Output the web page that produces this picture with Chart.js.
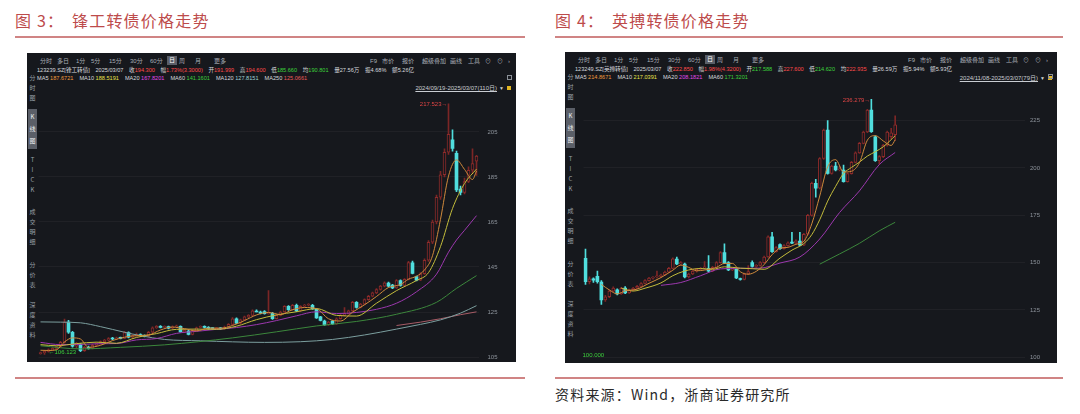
<!DOCTYPE html>
<html><head><meta charset="utf-8">
<script src="https://cdn.jsdelivr.net/npm/chart.js@4.4.1/dist/chart.umd.min.js"></script>
<style>
html,body{margin:0;padding:0;background:#fff;width:1080px;height:414px;overflow:hidden;}
.title{position:absolute;top:11px;font-family:"Noto Sans CJK SC",sans-serif;font-size:16px;line-height:18px;color:#bd4b4b;white-space:nowrap;letter-spacing:1.2px;}
.rule{position:absolute;height:2px;background:#d08484;}
.src{position:absolute;left:555px;top:386px;font-family:"Noto Sans CJK SC",sans-serif;font-size:14px;line-height:17px;color:#2a2a2a;white-space:nowrap;letter-spacing:1.2px;}
.panel{position:absolute;background:#16181d;overflow:hidden;}
.t{position:absolute;white-space:nowrap;font-family:"Liberation Sans","Noto Sans CJK SC",sans-serif;line-height:8px;height:8px;}
.side{position:absolute;width:9px;text-align:center;font-family:"Noto Sans CJK SC",sans-serif;font-size:6px;color:#9aa0a8;}
canvas{position:absolute;}
</style></head><body>

<div class="title" style="left:15px">图 3：</div>
<div class="title" style="left:72px">锋工转债价格走势</div>
<div class="rule" style="left:15px;top:36px;width:510px"></div>
<div class="rule" style="left:15px;top:377px;width:510px"></div>

<div class="title" style="left:555px">图 4：</div>
<div class="title" style="left:612px">英搏转债价格走势</div>
<div class="rule" style="left:555px;top:36px;width:508px"></div>
<div class="rule" style="left:555px;top:377px;width:508px"></div>
<div class="src">资料来源：Wind，浙商证券研究所</div>

<div id="pL" class="panel" style="left:27px;top:53px;width:489px;height:309px"></div>
<div id="pR" class="panel" style="left:565px;top:52px;width:492px;height:311px"></div>

<script>
// ---------- Left: 123239.SZ 锋工转债, 2024/09/19-2025/03/07 (110 days) ----------
const leftOpen = [
106.5,106.9,107.5,108.2,108.8,109.6,111.5,120.5,116.0,109.8,
110.6,107.8,109.3,108.8,110.2,111.0,111.8,112.5,113.3,113.0,
113.5,113.3,115.9,113.8,114.5,115.0,114.5,114.2,116.0,118.0,
118.6,118.2,118.5,117.8,118.4,118.6,116.2,116.5,115.0,116.8,
118.2,118.5,118.2,117.7,117.6,117.8,117.5,118.3,119.5,122.0,
120.0,121.5,122.8,123.5,125.2,125.0,125.2,124.3,124.4,122.0,
123.5,125.0,127.5,126.0,128.0,125.5,127.6,128.0,128.0,126.2,
122.8,121.0,119.3,121.0,119.7,122.0,123.5,124.2,125.5,129.3,
127.0,128.5,130.5,132.0,133.5,135.0,136.5,137.9,137.0,135.7,
139.0,136.8,139.5,146.9,140.7,139.1,142.0,148.0,156.0,165.0,
176.0,186.0,196.0,201.5,195.5,179.6,178.1,183.0,188.0,191.999];
const leftHigh = [
107.2,107.8,108.6,109.2,110.0,112.0,121.8,121.3,116.4,111.5,
111.0,109.8,109.8,110.6,111.4,112.2,112.9,113.6,113.7,113.9,
113.9,116.4,116.2,114.9,115.6,115.3,114.8,116.4,118.4,119.0,
119.0,118.9,118.7,118.8,119.2,118.9,117.2,116.8,117.1,118.3,
118.9,118.8,118.5,118.0,118.2,118.1,118.7,119.9,122.5,122.4,
121.9,123.2,123.9,126.0,126.0,125.4,125.6,134.5,124.8,123.9,
125.4,127.9,127.9,128.4,128.5,127.9,128.4,128.7,128.4,126.5,
123.1,121.4,120.9,121.3,122.4,123.9,127.0,125.9,129.7,129.6,
128.9,130.9,132.4,133.9,135.4,136.9,138.4,138.3,137.3,139.4,
139.3,139.9,147.5,147.6,141.0,142.5,148.6,156.7,165.8,177.0,
187.5,197.5,217.523,206.0,196.5,181.0,184.5,189.5,197.5,194.6];
const leftLow = [
106.3,106.123,107.2,107.8,108.4,109.3,111.2,115.5,109.4,109.2,
107.4,107.5,108.5,108.6,109.9,110.7,111.5,112.2,112.7,112.8,
113.0,113.1,113.5,113.5,114.2,114.2,113.9,114.0,115.8,117.7,
117.9,117.9,117.5,117.6,118.1,116.0,115.9,114.8,114.8,116.5,
118.0,117.9,117.4,117.3,117.3,117.2,117.3,118.1,119.3,119.8,
119.8,121.3,122.5,123.3,125.0,124.2,124.0,124.0,121.7,121.8,
123.3,124.8,125.7,125.8,125.2,125.3,127.3,127.7,126.2,122.1,
121.0,119.0,119.0,119.4,119.5,121.8,123.3,124.0,125.3,126.7,
126.8,128.3,130.2,131.7,133.2,134.7,136.2,136.2,135.4,135.5,
136.5,136.6,139.3,141.9,138.8,138.9,141.7,147.5,155.4,164.2,
175.0,185.0,195.0,196.5,178.5,177.0,177.5,182.5,186.5,185.66];
const leftClose = [
106.8,107.5,108.2,108.8,109.6,111.5,120.5,116.0,109.8,110.8,
107.8,109.3,108.8,110.2,111.0,111.8,112.5,113.2,113.0,113.5,
113.3,115.9,113.8,114.5,115.0,114.5,114.2,116.0,118.0,118.6,
118.2,118.5,117.8,118.4,118.6,116.2,116.8,115.0,116.8,118.0,
118.5,118.2,117.7,117.6,117.8,117.5,118.3,119.5,122.0,120.0,
121.5,122.8,123.5,125.5,125.0,124.5,124.3,124.5,122.0,123.5,
125.0,127.5,126.0,128.0,125.5,127.5,128.0,128.3,126.4,122.4,
121.3,119.3,120.5,119.7,122.0,123.5,124.2,125.5,129.3,127.0,
128.5,130.5,132.0,133.5,135.0,136.5,138.0,136.5,135.7,139.0,
136.8,139.5,147.0,142.2,139.1,142.0,148.0,156.0,165.0,176.0,
186.0,196.0,204.0,197.7,179.3,178.1,183.0,188.0,191.0,194.3];
// moving averages: [day index, value]
const leftMA5 = [[0,108.0],[2,107.9],[4,108.2],[6,111.7],[8,113.5],[10,113.0],[12,109.3],[15,110.2],[18,112.3],[21,113.8],[24,114.5],[27,114.8],[30,117.0],[33,118.3],[36,117.6],[39,116.6],[42,117.8],[45,117.8],[48,119.0],[51,121.2],[54,123.7],[57,124.8],[60,123.9],[63,126.0],[66,127.0],[69,126.5],[72,122.0],[75,121.0],[78,124.9],[81,128.2],[84,131.9],[87,135.9],[90,137.2],[92,139.6],[94,140.9],[96,143.7],[98,150.0],[100,166.2],[102,185.4],[104,192.6],[106,188.4],[108,183.9],[109,187.67]];
const leftMA10 = [[0,110.5],[4,110.0],[9,110.95],[14,111.6],[19,111.1],[24,113.7],[29,115.4],[34,117.3],[39,117.4],[44,117.3],[49,118.7],[54,121.6],[59,123.7],[64,125.1],[69,126.5],[74,123.5],[79,123.2],[84,128.9],[89,134.5],[94,139.0],[97,142.5],[100,154.1],[103,171.0],[106,182.1],[109,188.52]];
const leftMA20 = [[0,111.5],[5,110.5],[10,110.6],[15,110.9],[19,111.0],[24,112.6],[29,113.2],[34,115.5],[39,116.4],[44,117.3],[49,118.1],[54,119.4],[59,121.2],[64,123.3],[69,125.1],[74,124.3],[79,124.8],[84,126.2],[89,128.9],[94,134.0],[99,141.8],[102,151.6],[104,157.0],[106,161.3],[109,167.82]];
const leftMA60 = [[0,110.0],[10,108.6],[20,109.3],[31,110.4],[48,113.5],[59,116.2],[69,118.8],[79,120.8],[89,124.0],[99,129.3],[104,135.5],[109,141.16]];
const leftMA120 = [[0,120.6],[5,120.5],[10,120.2],[15,118.5],[21,116.0],[25,114.5],[31,112.8],[40,112.2],[56,111.5],[65,111.8],[73,112.8],[81,114.8],[89,117.4],[95,119.5],[100,121.5],[105,124.5],[109,127.82]];
const leftMA250 = [[89,119.0],[95,120.5],[100,122.0],[105,123.8],[109,125.07]];
const leftTicks = [105,125,145,165,185,205];
const leftHighMark = [102, 217.523];
const leftLowMark = [1, 106.123];

// ---------- Right: 123249.SZ 英搏转债, 2024/11/08-2025/03/07 (79 days) ----------
const rightOpen = [
152.3,140.0,141.5,142.8,139.8,130.3,132.0,135.0,135.6,133.5,
136.6,134.0,135.5,136.5,137.5,139.0,140.5,141.8,142.5,142.7,
143.5,145.0,147.0,151.9,149.3,149.3,142.4,144.0,145.5,146.5,
147.2,147.0,145.5,147.5,150.0,155.3,150.0,146.1,146.6,141.5,
141.1,144.0,150.0,148.0,148.5,150.0,153.0,163.7,155.8,159.6,
157.4,159.0,160.5,160.3,161.4,159.3,165.0,175.0,191.9,189.3,
205.0,220.0,197.2,201.0,199.0,198.9,192.8,197.0,203.0,208.0,
213.0,219.0,230.6,216.5,203.9,206.0,212.0,216.5,217.588];
const rightHigh = [
157.2,142.5,142.0,145.5,140.5,132.8,135.6,137.2,136.2,137.0,
137.4,136.0,137.0,138.0,139.5,141.0,142.3,142.6,145.5,144.0,
145.5,147.5,152.5,153.0,150.5,149.8,144.5,146.0,147.0,147.5,
150.5,153.7,148.0,150.5,155.8,160.0,150.5,147.5,147.0,141.8,
144.5,148.5,151.0,149.0,150.5,153.5,164.2,166.0,158.5,160.0,
159.5,161.0,166.0,162.0,166.0,165.5,175.5,192.5,194.0,205.5,
220.5,225.0,201.5,203.0,201.0,201.6,197.5,203.5,208.5,213.5,
219.5,231.0,236.279,217.0,206.5,212.5,219.5,221.0,227.6];
const rightLow = [
138.5,138.8,139.5,139.2,128.0,129.5,131.5,134.6,133.0,133.2,
133.6,133.7,135.2,136.2,137.2,138.7,140.2,141.3,142.0,142.3,
143.2,144.7,146.7,148.9,148.8,142.0,142.0,143.6,145.0,146.0,
146.5,145.0,145.2,147.2,149.7,149.4,145.8,145.8,141.5,140.8,
140.9,143.7,147.6,147.5,148.2,149.7,152.7,155.4,155.5,157.0,
157.1,158.7,160.0,160.0,159.0,159.0,164.7,174.5,184.6,188.9,
204.5,196.8,196.8,198.5,198.5,192.5,192.5,196.7,202.7,207.7,
212.7,218.7,218.8,203.5,202.0,205.5,211.5,215.5,214.62];
const rightClose = [
139.9,141.5,140.8,140.0,130.3,132.0,135.0,136.6,133.5,136.5,
134.0,135.5,136.5,137.5,139.0,140.5,141.8,142.0,142.7,143.5,
145.0,147.0,152.0,149.3,150.0,142.4,144.0,145.5,146.5,147.0,
147.3,145.5,147.5,150.0,155.3,149.7,146.1,147.0,141.9,141.1,
144.0,145.3,148.0,148.5,150.0,153.0,163.7,155.8,158.0,157.4,
159.0,160.5,160.3,161.5,159.3,165.0,175.0,191.9,189.3,205.0,
220.0,197.2,201.0,199.0,199.5,192.8,197.0,203.0,208.0,213.0,
219.0,230.6,219.2,203.9,206.0,212.0,219.0,218.53,222.85];
const rightMA5 = [[4,138.5],[6,135.6],[8,133.5],[10,135.1],[13,136.0],[16,139.1],[19,142.1],[22,146.0],[24,148.7],[26,147.5],[28,145.7],[30,146.1],[33,147.5],[35,149.6],[37,149.6],[39,145.2],[41,143.9],[43,145.4],[45,149.0],[47,154.2],[49,157.6],[51,158.1],[53,159.7],[55,161.3],[57,170.5],[59,185.2],[61,200.7],[63,204.4],[65,197.9],[67,198.3],[69,202.8],[71,214.7],[73,217.1],[75,214.3],[77,211.9],[78,214.87]];
const rightMA10 = [[9,136.6],[12,135.0],[15,136.5],[19,139.3],[22,143.1],[25,145.6],[29,146.9],[32,146.5],[35,147.8],[39,147.1],[42,146.8],[45,146.5],[49,152.4],[52,156.6],[55,160.1],[57,164.8],[59,172.7],[61,182.5],[63,190.3],[65,197.1],[67,200.3],[69,203.1],[71,206.3],[73,208.6],[75,211.2],[78,217.04]];
const rightMA20 = [[19,138.0],[24,139.5],[29,143.1],[34,146.7],[39,147.0],[44,147.1],[49,149.8],[54,153.0],[59,162.5],[64,176.5],[69,187.9],[74,201.8],[78,208.18]];
const rightMA60 = [[59,149.2],[64,154.6],[69,160.2],[74,166.8],[78,171.32]];
const rightTicks = [100,125,150,175,200,225];
const rightHighMark = [72, 236.279];
const rightLowMark = [0, 100.000];

// ---------- header texts ----------
const leftInfo = [['','123239.SZ[锋工转债]','w'],['','2025/03/07','w'],['收','194.300','r'],['幅','1.73%(3.3000)','r'],['开','191.999','r'],['高','194.600','r'],['低','185.660','g'],['均','190.801','g'],['量','27.56万','w'],['振','4.68%','w'],['额','5.26亿','w']];
const leftMAText = [['MA5','187.6721'],['MA10','188.5191'],['MA20','167.8201'],['MA60','141.1601'],['MA120','127.8151'],['MA250','125.0661']];
const leftRange = '2024/09/19-2025/03/07(110日)';
const rightInfo = [['','123249.SZ[英搏转债]','w'],['','2025/03/07','w'],['收','222.850','r'],['幅','1.98%(4.3200)','r'],['开','217.588','g'],['高','227.600','r'],['低','214.620','g'],['均','222.935','r'],['量','26.59万','w'],['振','5.94%','w'],['额','5.93亿','w']];
const rightMAText = [['MA5','214.8671'],['MA10','217.0391'],['MA20','208.1821'],['MA60','171.3201']];
const rightRange = '2024/11/08-2025/03/07(79日)';

const PANEL_BG = '#16181d';
const UP = '#8e2b2b', UPW = '#7c2626', DOWN = '#50dede';
const MA_COLORS = ['#d08a3c','#c4bd3c','#9c38ae','#3c873c','#7c9f9f','#a85c66'];
const MA_TEXT = ['#f09a3c','#e8e24a','#e04ae8','#3ccf3c','#a0d2d2','#e85a5a'];
const TC = {w:'#d6d9de', r:'#ff4a4a', g:'#3cd23c'};

function mk(parent, cls, text, css){
  const d=document.createElement('div'); d.className=cls; d.textContent=text;
  Object.assign(d.style, css); parent.appendChild(d); return d;
}

function buildHeader(panel, info, maText, range, rangeY){
  const tb = ['分时','多日','1分','5分','15分','30分','60分','日','周','月','更多'];
  const tbX = [13,30,49,64,82,103,123,142,152,168,187];
  tb.forEach((s,i)=>{
    const d = mk(panel,'t',s,{left:tbX[i]+'px',top:'4px',fontSize:'6px',color:'#a9aeb6'});
    if(s==='日'){ Object.assign(d.style,{background:'#5a5e67',color:'#fff',padding:'0 2px',left:(tbX[i]-2)+'px',height:'9px',lineHeight:'9px',top:'3px'}); }
  });
  const tr = ['F9','市价','报价','超级叠加','画线','工具','⊙','⊙','›'];
  const trX = [343,355,375,395,423,441,458,470,481];
  tr.forEach((s,i)=>mk(panel,'t',s,{left:trX[i]+'px',top:'4px',fontSize:'6px',color:'#a9aeb6'}));
  const row = mk(panel,'t','',{left:'10px',top:'13px',fontSize:'5.6px'});
  info.forEach(([lab,val,c])=>{
    const s=document.createElement('span'); s.style.marginRight='5.6px';
    if(lab){const a=document.createElement('span');a.textContent=lab;a.style.color=TC.w;s.appendChild(a);}
    const b=document.createElement('span');b.textContent=val;b.style.color=TC[c];s.appendChild(b);
    row.appendChild(s);
  });
  const mrow = mk(panel,'t','',{left:'10px',top:'21px',fontSize:'5.6px'});
  maText.forEach(([lab,val],i)=>{
    const a=document.createElement('span');a.textContent=lab+' ';a.style.color=TC.w;
    const b=document.createElement('span');b.textContent=val;b.style.color=MA_TEXT[i];b.style.marginRight='6px';
    mrow.appendChild(a);mrow.appendChild(b);
  });
  mk(panel,'t',range,{right:'19px',top:(rangeY-4)+'px',fontSize:'6px',color:'#c9ccd2',textDecoration:'underline'});
  mk(panel,'t','▼',{right:'12px',top:(rangeY-4)+'px',fontSize:'5px',color:'#d0d0d0'});
  mk(panel,'t','',{right:'5px',top:(rangeY-2)+'px',width:'4px',height:'4px',background:'#e2b622'});
  mk(panel,'t','',{right:'4px',top:'22px',width:'5px',height:'5px',border:'1px solid #8a8f96',boxSizing:'border-box'});
  const side = [['分时图',20,10,false],['K线图',58,12,true],['TICK',102,10,false],['成交明细',154,10,false],['分价表',207,10,false],['深度资料',247,10,false]];
  side.forEach(([s,top,lh,hi])=>{
    const d = mk(panel,'side','',{left:'1px',top:top+'px',lineHeight:lh+'px'});
    d.innerHTML = s.split('').join('<br>');
    if(hi){ Object.assign(d.style,{background:'#5b5f68',color:'#eef0f2',paddingTop:'2px',paddingBottom:'2px',top:(top-2)+'px'}); }
  });
}

const markPlugin = {
  id:'marks',
  afterDatasetsDraw(chart, args, o){
    const ctx = chart.ctx, xs = chart.scales.x, ys = chart.scales.y;
    ctx.save();
    ctx.font = '6px "Liberation Sans"';
    ctx.textBaseline = 'middle';
    let x = xs.getPixelForValue(o.high[0]), y = ys.getPixelForValue(o.high[1]);
    ctx.fillStyle = '#e04545'; ctx.textAlign = 'right';
    ctx.fillText(o.high[1].toFixed(3) + '→', x - 1, y + 1);
    x = xs.getPixelForValue(o.low[0]); y = ys.getPixelForValue(o.low[1]);
    ctx.fillStyle = '#3ccf3c'; ctx.textAlign = 'left';
    ctx.fillText('←' + o.low[1].toFixed(3), x + o.lowDx, y - 2);
    ctx.restore();
  }
};

// the y axis adds (half label height + tick padding) above and below the plot;
// the canvas is enlarged by that amount so the plot itself spans pos.y .. pos.y+pos.h
function makeChart(panel, pos, d){
  const pad = 3 + d.tickPad;
  const cv = document.createElement('canvas');
  cv.width = pos.w; cv.height = pos.h + 2*pad;
  Object.assign(cv.style,{left:pos.x+'px',top:(pos.y-pad)+'px',width:pos.w+'px',height:(pos.h+2*pad)+'px'});
  panel.appendChild(cv);
  const n = d.close.length;
  const up = i => d.close[i] >= d.open[i];
  const body = [], wick = [];
  for(let i=0;i<n;i++){ body.push({x:i,y:[d.open[i],d.close[i]]}); wick.push({x:i,y:[d.low[i],d.high[i]]}); }
  const lines = d.ma.map((m,k)=>({type:'line',data:m.map(p=>({x:p[0],y:p[1]})),borderColor:MA_COLORS[k],borderWidth:1,pointRadius:0,cubicInterpolationMode:'monotone',fill:false}));
  new Chart(cv,{
    type:'bar',
    data:{datasets:[...lines,
      {type:'bar',data:body,grouped:false,categoryPercentage:1,barPercentage:1,maxBarThickness:3,minBarLength:1,borderSkipped:false,
       backgroundColor:c=>up(c.dataIndex)?PANEL_BG:DOWN,borderColor:c=>up(c.dataIndex)?UP:DOWN,borderWidth:c=>up(c.dataIndex)?1:0},
      {type:'bar',data:wick,grouped:false,categoryPercentage:1,barPercentage:1,maxBarThickness:1,borderSkipped:false,borderWidth:0,
       backgroundColor:c=>up(c.dataIndex)?UPW:DOWN}
    ]},
    options:{
      responsive:false,animation:false,events:[],
      layout:{padding:{left:0.5,right:0,top:0,bottom:0},autoPadding:false},
      plugins:{legend:{display:false},title:{display:false},tooltip:{enabled:false},marks:{high:d.highMark,low:d.lowMark,lowDx:d.lowDx}},
      scales:{
        x:{type:'linear',display:false,min:-0.5,max:d.xMax,offset:false},
        y:{type:'linear',position:'right',min:d.yMin,max:d.yMax,
           afterFit:s=>{s.width=d.axisW;},
           afterBuildTicks:s=>{s.ticks=d.ticks.map(v=>({value:v}));},
           grid:{color:'rgba(255,255,255,0.045)',drawTicks:false},border:{display:false},
           ticks:{color:'#8d939b',font:{size:6,family:'Liberation Sans',lineHeight:1},padding:d.tickPad}}
      }
    },
    plugins:[markPlugin]
  });
}

const pL = document.getElementById('pL'), pR = document.getElementById('pR');
buildHeader(pL, leftInfo, leftMAText, leftRange, 35);
buildHeader(pR, rightInfo, rightMAText, rightRange, 26);

makeChart(pL,{x:11,y:42,w:474,h:267},{open:leftOpen,high:leftHigh,low:leftLow,close:leftClose,
  ma:[leftMA5,leftMA10,leftMA20,leftMA60,leftMA120,leftMA250],ticks:leftTicks,
  yMin:102.78,yMax:221.44,xMax:109.5,axisW:33.5,tickPad:9,highMark:leftHighMark,lowMark:leftLowMark,lowDx:4});
makeChart(pR,{x:18,y:43,w:474,h:267},{open:rightOpen,high:rightHigh,low:rightLow,close:rightClose,
  ma:[rightMA5,rightMA10,rightMA20,rightMA60],ticks:rightTicks,
  yMin:97.52,yMax:238.56,xMax:110.7,axisW:32,tickPad:5,highMark:rightHighMark,lowMark:rightLowMark,lowDx:-9});
</script>
</body></html>
